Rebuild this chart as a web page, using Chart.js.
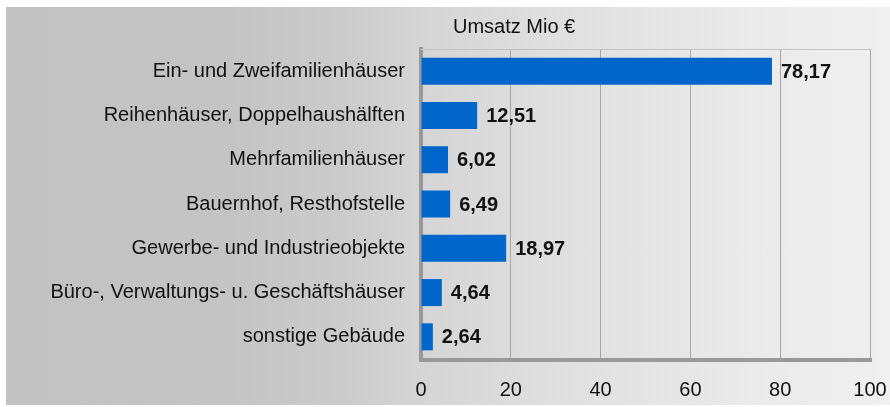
<!DOCTYPE html>
<html>
<head>
<meta charset="utf-8">
<script src="https://cdn.jsdelivr.net/npm/chart.js@4"></script>
<style>
  html, body { margin: 0; padding: 0; background: #ffffff; }
  #box {
    position: absolute; left: 6px; top: 7px; width: 884px; height: 398px;
    background: linear-gradient(to right, #c2c2c2 0%, #c4c4c4 25%, #cbcbcb 38%, #d5d5d5 47%, #e1e1e1 65%, #e9e9e9 82%, #f0f0f0 100%);
  }
</style>
</head>
<body>
<div id="box"><canvas id="myChart" width="884" height="398"></canvas></div>
<script>
const categories = [
  'Ein- und Zweifamilienhäuser',
  'Reihenhäuser, Doppelhaushälften',
  'Mehrfamilienhäuser',
  'Bauernhof, Resthofstelle',
  'Gewerbe- und Industrieobjekte',
  'Büro-, Verwaltungs- u. Geschäftshäuser',
  'sonstige Gebäude'
];
const umsatz = [78.17, 12.51, 6.02, 6.49, 18.97, 4.64, 2.64];
const xTicks = [0, 20, 40, 60, 80, 100];
const titleText = 'Umsatz Mio €';

const font = 'Liberation Sans, Arial, sans-serif';

// frame lines, value labels next to the bars and the title above the plot
const labelsPlugin = {
  id: 'labels',
  beforeDatasetsDraw(chart) {
    const ctx = chart.ctx;
    const area = chart.chartArea;
    const xs = chart.scales.x;
    const x0 = xs.getPixelForValue(xTicks[0]);
    const x1 = xs.getPixelForValue(xTicks[xTicks.length - 1]);
    ctx.save();
    // top border of the plot
    ctx.strokeStyle = '#c4c4c4';
    ctx.lineWidth = 1;
    ctx.beginPath();
    ctx.moveTo(x0, area.top + 0.5);
    ctx.lineTo(x1, area.top + 0.5);
    ctx.stroke();
    // bottom axis line
    ctx.strokeStyle = '#999999';
    ctx.lineWidth = 4;
    ctx.beginPath();
    ctx.moveTo(x0 - 2, area.bottom + 1);
    ctx.lineTo(x1 + 2, area.bottom + 1);
    ctx.stroke();
    ctx.restore();
  },
  afterDatasetsDraw(chart) {
    const ctx = chart.ctx;
    const area = chart.chartArea;
    ctx.save();
    ctx.fillStyle = '#111111';
    ctx.font = 'bold 20px ' + font;
    ctx.textBaseline = 'middle';
    chart.getDatasetMeta(0).data.forEach((bar, i) => {
      ctx.fillText(umsatz[i].toFixed(2).replace('.', ','), bar.x + 9, bar.y + 1);
    });
    // title
    ctx.font = '20px ' + font;
    ctx.textBaseline = 'alphabetic';
    ctx.fillText(titleText, area.left + 32, 26);
    ctx.restore();
  }
};

const ctx = document.getElementById('myChart').getContext('2d');
const myChart = new Chart(ctx, {
  type: 'bar',
  data: {
    labels: categories,
    datasets: [{
      data: umsatz,
      backgroundColor: '#0066cc',
      barPercentage: 0.61,
      categoryPercentage: 1
    }]
  },
  plugins: [labelsPlugin],
  options: {
    indexAxis: 'y',
    responsive: false,
    animation: false,
    layout: { padding: { left: 0, top: 42, right: 20, bottom: 0 } },
    plugins: { legend: { display: false }, tooltip: { enabled: false } },
    scales: {
      x: {
        min: 0,
        max: 100,
        afterBuildTicks: scale => { scale.ticks = xTicks.map(v => ({ value: v })); },
        afterFit: scale => {
          scale.height = 46;
          scale.paddingLeft = 0;
          scale.paddingRight = 0;
        },
        grid: { color: '#a6a6a6', lineWidth: 1, drawTicks: false },
        border: { display: false },
        ticks: { color: '#111111', font: { family: font, size: 20 }, padding: 19 }
      },
      y: {
        afterFit: scale => { scale.width = 415; },
        grid: { display: false, drawTicks: false },
        border: { color: '#999999', width: 4 },
        ticks: { color: '#111111', font: { family: font, size: 20 }, padding: 16 }
      }
    }
  }
});
</script>
</body>
</html>
